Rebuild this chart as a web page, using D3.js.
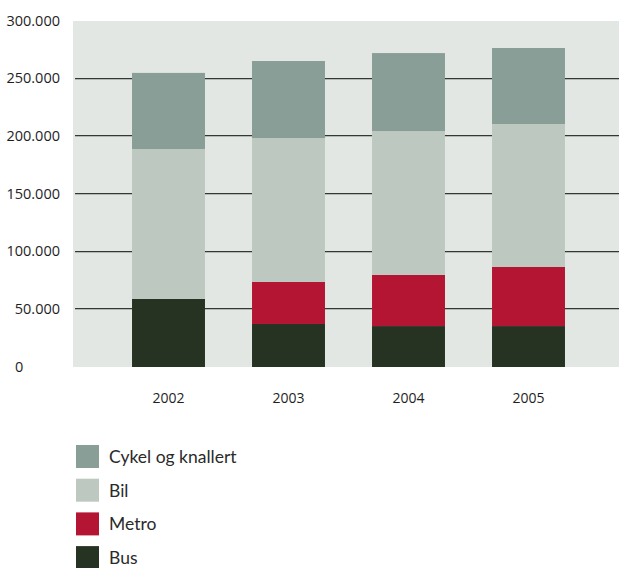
<!DOCTYPE html>
<html>
<head>
<meta charset="utf-8">
<script src="https://cdn.jsdelivr.net/npm/d3@7"></script>
<style>
  body { margin: 0; background: #fff; }
  svg { display: block; }
</style>
</head>
<body>
<div id="chart"></div>
<script>
// data
var years = ["2002", "2003", "2004", "2005"];
var bus = [59000, 37300, 35500, 35500];
var metro = [0, 36400, 44300, 51200];
var bil = [130000, 124800, 124800, 124000];
var cykel = [66000, 66800, 67600, 65900];
var yTicks = [0, 50000, 100000, 150000, 200000, 250000, 300000];

var seriesNames = ["Bus", "Metro", "Bil", "Cykel og knallert"];
var seriesColors = ["#263322", "#b31532", "#bdc9c0", "#8a9e98"];

var width = 619, height = 568;

var svg = d3.select("#chart").append("svg")
  .attr("width", width)
  .attr("height", height);

var plot = { left: 73, right: 619, top: 21, bottom: 367 };

var y = d3.scaleLinear().domain([0, 300000]).range([plot.bottom, plot.top]);
var x = d3.scaleBand().domain(years)
  .range([108.5, 588.5])
  .paddingInner(0.392)
  .paddingOuter(0.196);

var rows = years.map(function (yr, i) {
  return { year: yr, Bus: bus[i], Metro: metro[i], Bil: bil[i], "Cykel og knallert": cykel[i] };
});
var stacked = d3.stack().keys(seriesNames)(rows);

// background
svg.append("rect")
  .attr("x", plot.left).attr("y", plot.top)
  .attr("width", plot.right - plot.left).attr("height", plot.bottom - plot.top)
  .attr("fill", "#e3e7e3");

// gridlines
var grid = svg.append("g");
yTicks.filter(function (t) { return t > 0 && t < 300000; }).forEach(function (t) {
  grid.append("line")
    .attr("x1", plot.left + 2).attr("x2", plot.right)
    .attr("y1", Math.round(y(t)) + 0.5).attr("y2", Math.round(y(t)) + 0.5)
    .attr("stroke", "#b4b8b4").attr("stroke-width", 1);
  grid.append("line")
    .attr("x1", plot.left + 2).attr("x2", plot.right)
    .attr("y1", Math.round(y(t)) - 0.5).attr("y2", Math.round(y(t)) - 0.5)
    .attr("stroke", "#333833").attr("stroke-width", 1.2);
});

// bars
svg.append("g").selectAll("g")
  .data(stacked)
  .enter().append("g")
  .attr("fill", function (d, i) { return seriesColors[i]; })
  .selectAll("rect")
  .data(function (d) { return d; })
  .enter().append("rect")
  .attr("x", function (d) { return x(d.data.year); })
  .attr("width", x.bandwidth())
  .attr("y", function (d) { return y(d[1]); })
  .attr("height", function (d) { return y(d[0]) - y(d[1]); });

// y labels
var fmt = function (v) { return v === 0 ? "0" : d3.format(",")(v).replace(/,/g, "."); };
svg.append("g").selectAll("text")
  .data(yTicks)
  .enter().append("text")
  .attr("x", function (d) { return d === 0 ? 15 : 60; })
  .attr("y", function (d) { return y(d) + 4.5; })
  .attr("text-anchor", function (d) { return d === 0 ? "start" : "end"; })
  .attr("font-family", "'Open Sans', sans-serif")
  .attr("font-size", 14.5)
  .attr("fill", "#1e1e1e")
  .text(fmt);

// x labels
svg.append("g").selectAll("text")
  .data(years)
  .enter().append("text")
  .attr("x", function (d) { return x(d) + x.bandwidth() / 2; })
  .attr("y", 403)
  .attr("text-anchor", "middle")
  .attr("font-family", "'Open Sans', sans-serif")
  .attr("font-size", 14)
  .attr("fill", "#1e1e1e")
  .text(function (d) { return d; });

// legend, top entry is the top of the stack
var legendItems = seriesNames.slice().reverse();
var legend = svg.append("g").selectAll("g")
  .data(legendItems)
  .enter().append("g")
  .attr("transform", function (d, i) { return "translate(76," + (445 + i * 33.7) + ")"; });

legend.append("rect")
  .attr("width", 23).attr("height", 23)
  .attr("fill", function (d) { return seriesColors[seriesNames.indexOf(d)]; });

legend.append("text")
  .attr("x", 33).attr("y", 18)
  .attr("font-family", "Lato, sans-serif")
  .attr("font-size", 17.5)
  .attr("fill", "#2a2a2a")
  .text(function (d) { return d; });
</script>
</body>
</html>
